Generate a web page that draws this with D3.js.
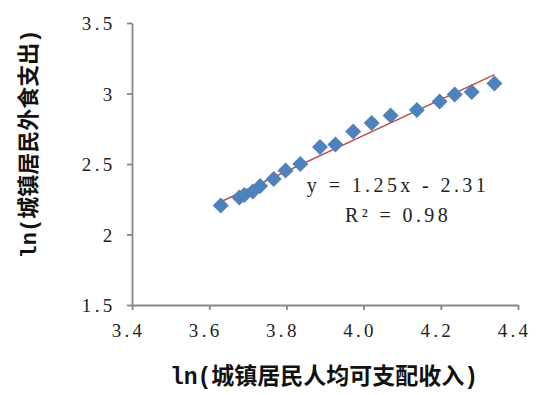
<!DOCTYPE html>
<html><head><meta charset="utf-8">
<script src="https://cdn.jsdelivr.net/npm/d3@7"></script>
<style>
html,body{margin:0;padding:0;background:#fff;}
svg{display:block;}
</style></head>
<body>
<script>
// Data
const incomeLn = [3.630,3.678,3.691,3.713,3.732,3.767,3.798,3.836,3.887,3.927,3.973,4.021,4.070,4.138,4.197,4.236,4.280,4.339];
const eatOutLn = [2.206,2.262,2.280,2.305,2.344,2.394,2.454,2.500,2.621,2.638,2.730,2.791,2.844,2.883,2.943,2.993,3.011,3.071];
const xTicks = [3.4,3.6,3.8,4.0,4.2,4.4];
const xTickLabels = ["3.4","3.6","3.8","4.0","4.2","4.4"];
const yTicks = [1.5,2,2.5,3,3.5];
const yTickLabels = ["1.5","2","2.5","3","3.5"];
const equationLines = ["y = 1.25x - 2.31","R² = 0.98"];
const xTitle = "ln(城镇居民人均可支配收入)";
const yTitle = "ln(城镇居民外食支出)";

const W = 541, H = 395;
const svg = d3.select("body").append("svg").attr("width",W).attr("height",H);
const x = d3.scaleLinear().domain([3.4,4.4]).range([132,518]);
const y = d3.scaleLinear().domain([1.5,3.5]).range([305,23]);

const axisColor = "#868686";
const tickFont = "'Liberation Serif','DejaVu Serif',serif";

// X axis
const gx = svg.append("g").attr("transform",`translate(0,${y(1.5)})`)
  .call(d3.axisBottom(x).tickValues(xTicks).tickFormat((d,i)=>xTickLabels[i]).tickSizeOuter(0).tickSizeInner(5).tickPadding(14));
gx.select(".domain").attr("stroke",axisColor).attr("stroke-width",1.8);
gx.selectAll(".tick line").attr("stroke",axisColor).attr("stroke-width",1.8);
gx.selectAll(".tick text").attr("font-family",tickFont).attr("font-size",19)
  .attr("letter-spacing",3.3).attr("fill","#222").attr("dx",-4);

// Y axis
const gy = svg.append("g").attr("transform",`translate(${x(3.4)},0)`)
  .call(d3.axisLeft(y).tickValues(yTicks).tickFormat((d,i)=>yTickLabels[i]).tickSizeOuter(0).tickSizeInner(5).tickPadding(11.5));
gy.select(".domain").attr("stroke",axisColor).attr("stroke-width",1.8);
gy.selectAll(".tick line").attr("stroke",axisColor).attr("stroke-width",1.8);
gy.selectAll(".tick text").attr("font-family",tickFont).attr("font-size",19)
  .attr("letter-spacing",3.3).attr("fill","#222").attr("dy","0.36em");

// Least-squares trendline computed from the points
const n = incomeLn.length;
const mx = d3.mean(incomeLn), my = d3.mean(eatOutLn);
let sxy=0, sxx=0;
for(let i=0;i<n;i++){ sxy+=(incomeLn[i]-mx)*(eatOutLn[i]-my); sxx+=(incomeLn[i]-mx)**2; }
const slope = sxy/sxx, intercept = my - slope*mx;
const xs = d3.extent(incomeLn);
svg.append("line")
  .attr("x1",x(xs[0])).attr("y1",y(slope*xs[0]+intercept))
  .attr("x2",x(xs[1])).attr("y2",y(slope*xs[1]+intercept))
  .attr("stroke","#C0504D").attr("stroke-width",1.6);

// Points (diamonds)
const sym = d3.symbol().type(d3.symbolSquare).size(128);
svg.append("g").selectAll("path").data(incomeLn).join("path")
  .attr("d",sym)
  .attr("transform",(d,i)=>`translate(${x(d)},${y(eatOutLn[i])}) rotate(45)`)
  .attr("fill","#4F81BD");

// Trendline equation label
svg.append("g").selectAll("text").data(equationLines).join("text")
  .attr("x",398).attr("y",(d,i)=>192+i*30)
  .attr("text-anchor","middle")
  .attr("font-family",tickFont).attr("font-size",20).attr("letter-spacing",3.4).attr("fill","#222")
  .text(d=>d);

// Axis titles
const titleFont = "'Liberation Mono','Noto Sans CJK SC',monospace";
svg.append("text").attr("x",324).attr("y",384).attr("text-anchor","middle")
  .attr("font-family",titleFont).attr("font-size",23).attr("font-weight","bold").attr("fill","#111")
  .text(xTitle);
svg.append("text").attr("transform","translate(36,144) rotate(-90)").attr("text-anchor","middle")
  .attr("font-family",titleFont).attr("font-size",22).attr("font-weight","bold").attr("fill","#111")
  .text(yTitle);
</script>
</body></html>
